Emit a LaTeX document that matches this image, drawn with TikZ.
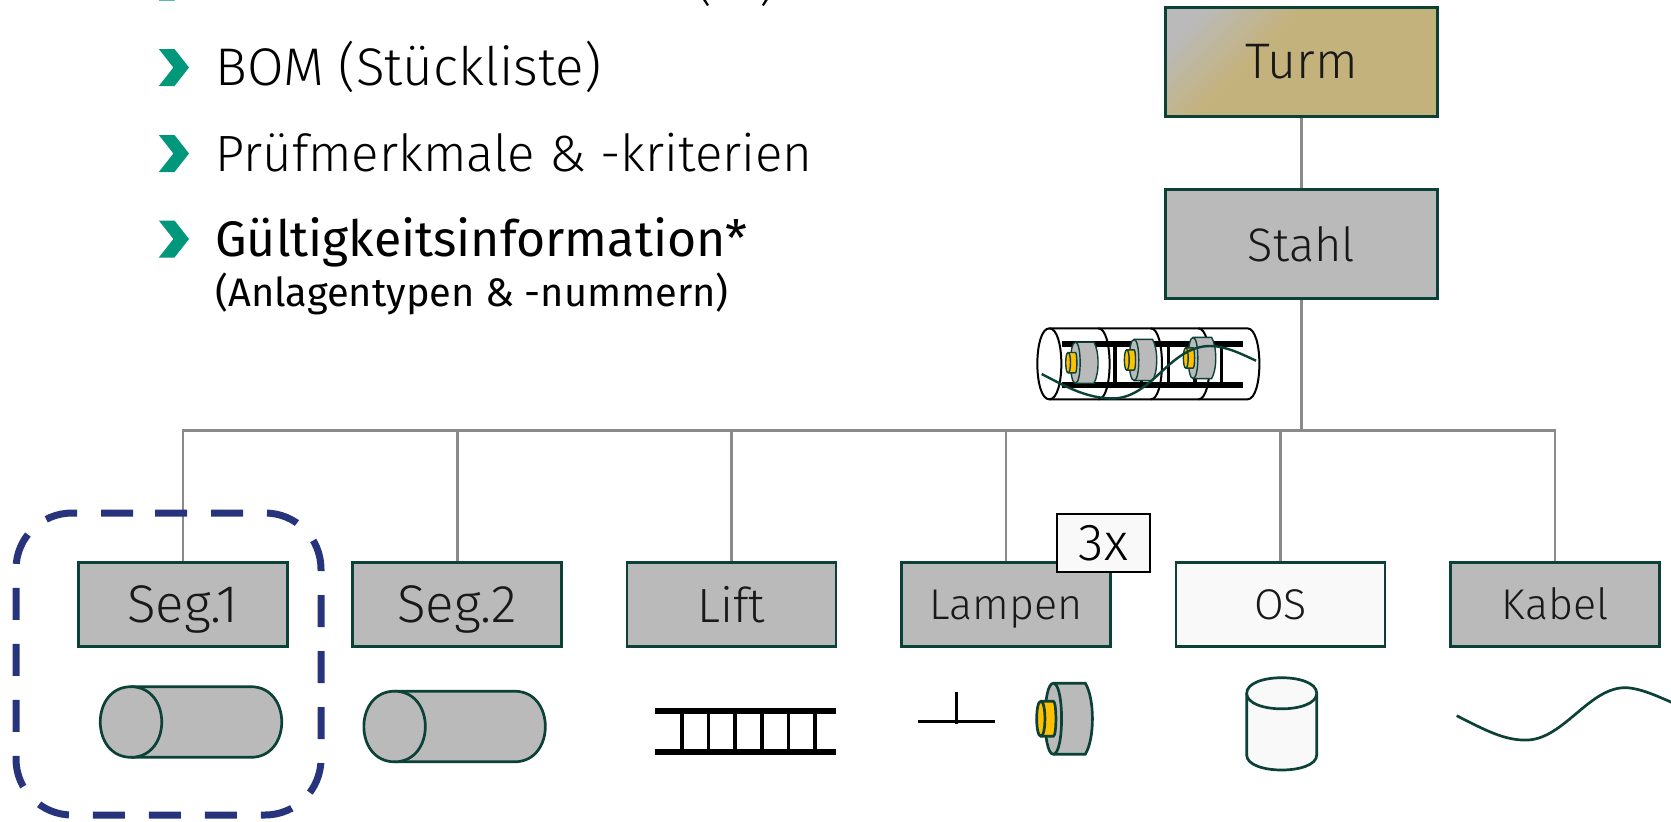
\documentclass[tikz,border=0pt]{standalone}
\usepackage{fontspec}
\setmainfont{Fira Sans}[UprightFont={* Light}]
\newfontfamily\regfont{Fira Sans}
\definecolor{edgeg}{HTML}{0B4136}
\definecolor{boxg}{HTML}{BABABA}
\definecolor{paleg}{HTML}{F9F9F9}
\definecolor{sand}{HTML}{C4B27D}
\definecolor{linkg}{HTML}{8A8A8A}
\definecolor{teal}{HTML}{00977A}
\definecolor{navy}{HTML}{27337A}
\definecolor{lampy}{HTML}{FFC000}
\pgfdeclarehorizontalshading{turmshade}{100bp}{color(0bp)=(boxg); color(22bp)=(boxg); color(40bp)=(sand); color(100bp)=(sand)}
\tikzset{
  x=0.5pt,y=-0.5pt,
  box/.style={draw=edgeg,line width=1.35pt,fill=boxg,minimum width=104.5pt,minimum height=42pt,inner sep=0pt,text=black!90,text height=18pt,text depth=0pt,font=\fontsize{26.5}{26.5}\selectfont},
  smalltext/.style={text height=15pt,font=\fontsize{21.5}{21.5}\selectfont},
  bigbox/.style={box,minimum width=136pt,minimum height=54.5pt,text height=17pt},
  link/.style={draw=linkg,line width=1.3pt},
  lampline/.style={line width=1.35pt},
  shapeg/.style={draw=edgeg,line width=1.35pt,fill=boxg},
  chev/.style={fill=teal,draw=none},
  bullet/.style={anchor=base west,inner sep=0pt},
  rail/.style={draw=black,line width=3pt},
  rung/.style={draw=black,line width=1.8pt},
  mini/.style={draw=black,line width=1pt,fill=white},
  pics/lampico/.style={code={
    \draw[shapeg,lampline] (0,-35.5) -- (32,-35.5) .. controls (41.5,-20) and (41.5,20) .. (32,35.5) -- (0,35.5) .. controls (-11,35.5) and (-11,-35.5) .. (0,-35.5) -- cycle;
    \draw[shapeg,lampline] (0,-35.5) .. controls (11,-35.5) and (11,35.5) .. (0,35.5);
    \draw[shapeg,lampline,fill=lampy] (-12.5,-17.5) -- (0,-17.5) .. controls (3.5,-17.5) and (3.5,17.5) .. (0,17.5) -- (-12.5,17.5) .. controls (-18,17.5) and (-18,-17.5) .. (-12.5,-17.5) -- cycle;
    \draw[shapeg,lampline,fill=lampy] (-12.5,-17.5) .. controls (-7,-17.5) and (-7,17.5) .. (-12.5,17.5);
  }},
  pics/tubeico/.style={code={
    \draw[shapeg] (31,-35.3) -- (151,-35.3) .. controls (192,-35.3) and (192,35.3) .. (151,35.3) -- (31,35.3) .. controls (-10,35.3) and (-10,-35.3) .. (31,-35.3) -- cycle;
    \draw[shapeg] (31,-35.3) .. controls (72,-35.3) and (72,35.3) .. (31,35.3);
  }},
}
\newcommand{\chevat}[1]{\fill[chev] (158.8,#1-18.5) -- (174.5,#1-18.5) -- (189,#1) -- (174.5,#1+18.5) -- (158.8,#1+18.5) -- (173.4,#1) -- cycle;}
\begin{document}
\begin{tikzpicture}
\useasboundingbox (0,0) rectangle (1671,821);
\clip (0,0) rectangle (1671,821);
% bullets
\chevat{-18}\chevat{67.5}\chevat{153.5}\chevat{239}
\node[bullet,anchor=base east,font=\fontsize{26}{26}\selectfont] (b0a) at (713,-1) {(};
\node[bullet,font=\fontsize{26}{26}\selectfont] (b0b) at (759,-1) {)};
\node[bullet,font=\fontsize{26.5}{26.5}\selectfont] (b1) at (215,85) {BOM (Stückliste)};
\node[bullet,font=\fontsize{25.5}{25.5}\selectfont] (b2) at (215,171) {Prüfmerkmale \& -kriterien};
\node[bullet,font=\regfont\fontsize{25}{25}\selectfont] (b3) at (215,256.7) {Gültigkeitsinformation*};
\node[bullet,font=\regfont\fontsize{19.9}{19.9}\selectfont] (b4) at (215,306) {(Anlagentypen \& -nummern)};
% tree
\node[bigbox,draw=edgeg,shading=turmshade,shading angle=-45,font=\fontsize{25}{25}\selectfont] (turm) at (1301.5,61.7) {Turm};
\node[bigbox,font=\fontsize{23.5}{23.5}\selectfont] (stahl) at (1301.5,244) {Stahl};
\coordinate (bus) at (1301.5,430.5);
\node[box] (seg1) at (182.8,604.5) {Seg.1};
\node[box] (seg2) at (457.2,604.5) {Seg.2};
\node[box,font=\fontsize{24}{24}\selectfont] (lift) at (731.5,604.5) {Lift};
\node[box,smalltext] (lampen) at (1006,604.5) {Lampen};
\node[box,smalltext,fill=paleg] (os) at (1280.5,604.5) {OS};
\node[box,smalltext] (kabel) at (1555,604.5) {Kabel};
\draw[link] (turm) -- (stahl);
\draw[link] (stahl) -- (bus);
\foreach \n in {seg1,seg2,lift,lampen,os,kabel}{\draw[link] (\n.north) -- (\n.north |- bus) -- (bus);}
\node[draw=black,line width=0.9pt,fill=paleg,minimum width=46.5pt,minimum height=29pt,inner sep=0pt,font=\fontsize{26}{26}\selectfont] (three) at (1103.5,542.7) {3x};
% dashed frame
\draw[navy,line width=3.5pt,dash pattern=on 16pt off 12pt,rounded corners=28pt] (155,513) -- (321,513) -- (321,815) -- (16,815) -- (16,513) -- (155,513);
% icons
\pic at (100,722) {tubeico};
\pic at (363.6,726.5) {tubeico};
\foreach \x in {682,708.5,735,761.7,788.3,815}{\draw[rung] (\x,710.7) -- (\x,751.7);}
\draw[rail] (655,710.7) -- (836,710.7);
\draw[rail] (655,751.7) -- (836,751.7);
\draw[draw=black,line width=1.6pt] (918.3,721.3) -- (994.7,721.3);
\draw[draw=black,line width=1.6pt] (956.3,692.3) -- (956.3,724);
\pic at (1053.3,718.7) {lampico};
% OS cylinder
\draw[shapeg,fill=paleg] (1246.7,693.3) -- (1246.7,755) .. controls (1246.7,775) and (1316.7,775) .. (1316.7,755) -- (1316.7,693.3) .. controls (1316.7,672.5) and (1246.7,672.5) .. (1246.7,693.3) -- cycle;
\draw[shapeg,fill=paleg] (1246.7,693.3) .. controls (1246.7,714) and (1316.7,714) .. (1316.7,693.3);
% cable
\draw[draw=edgeg,line width=1.35pt] (1456.7,715.7) .. controls (1485,730) and (1505,741) .. (1528,740) .. controls (1565,738) and (1590,686) .. (1627,687.7) .. controls (1640,688.5) and (1655,695) .. (1672,702.5);
% assembly
\begin{scope}[shift={(1020,310)},x=0.1667pt,y=-0.1667pt]
\draw[mini] (88,55) -- (682,55) .. controls (730,55) and (730,268) .. (682,268) -- (88,268) .. controls (40,268) and (40,55) .. (88,55) -- cycle;
\foreach \a in {235,392,535}{\draw[draw=black,line width=1pt] (\a,55) .. controls (\a+45,55) and (\a+45,268) .. (\a,268);}
\draw[draw=black,line width=1pt] (88,55) .. controls (136,55) and (136,268) .. (88,268);
\foreach \x in {205,285,365,445,525,605}{\draw[black,line width=1.6pt] (\x,103) -- (\x,226);}
\draw[black,line width=3pt] (125,103) -- (668,103);
\draw[black,line width=3pt] (125,226) -- (668,226);
\coordinate (l1) at (166,158);\coordinate (l2) at (342,150);\coordinate (l3) at (519,144);
\end{scope}
\begin{scope}[shift={(l1)},x=0.29pt,y=-0.29pt,lampline/.style={line width=0.7pt}]\pic {lampico};\end{scope}
\begin{scope}[shift={(l2)},x=0.29pt,y=-0.29pt,lampline/.style={line width=0.7pt}]\pic {lampico};\end{scope}
\begin{scope}[shift={(l3)},x=0.29pt,y=-0.29pt,lampline/.style={line width=0.7pt}]\pic {lampico};\end{scope}
\begin{scope}[shift={(1020,310)},x=0.1667pt,y=-0.1667pt]
\draw[draw=edgeg,line width=1.2pt] (65,192) .. controls (130,225) and (200,268) .. (285,265) .. controls (400,258) and (450,108) .. (570,108) .. controls (620,108) and (670,135) .. (708,152);
\end{scope}
\end{tikzpicture}
\end{document}
